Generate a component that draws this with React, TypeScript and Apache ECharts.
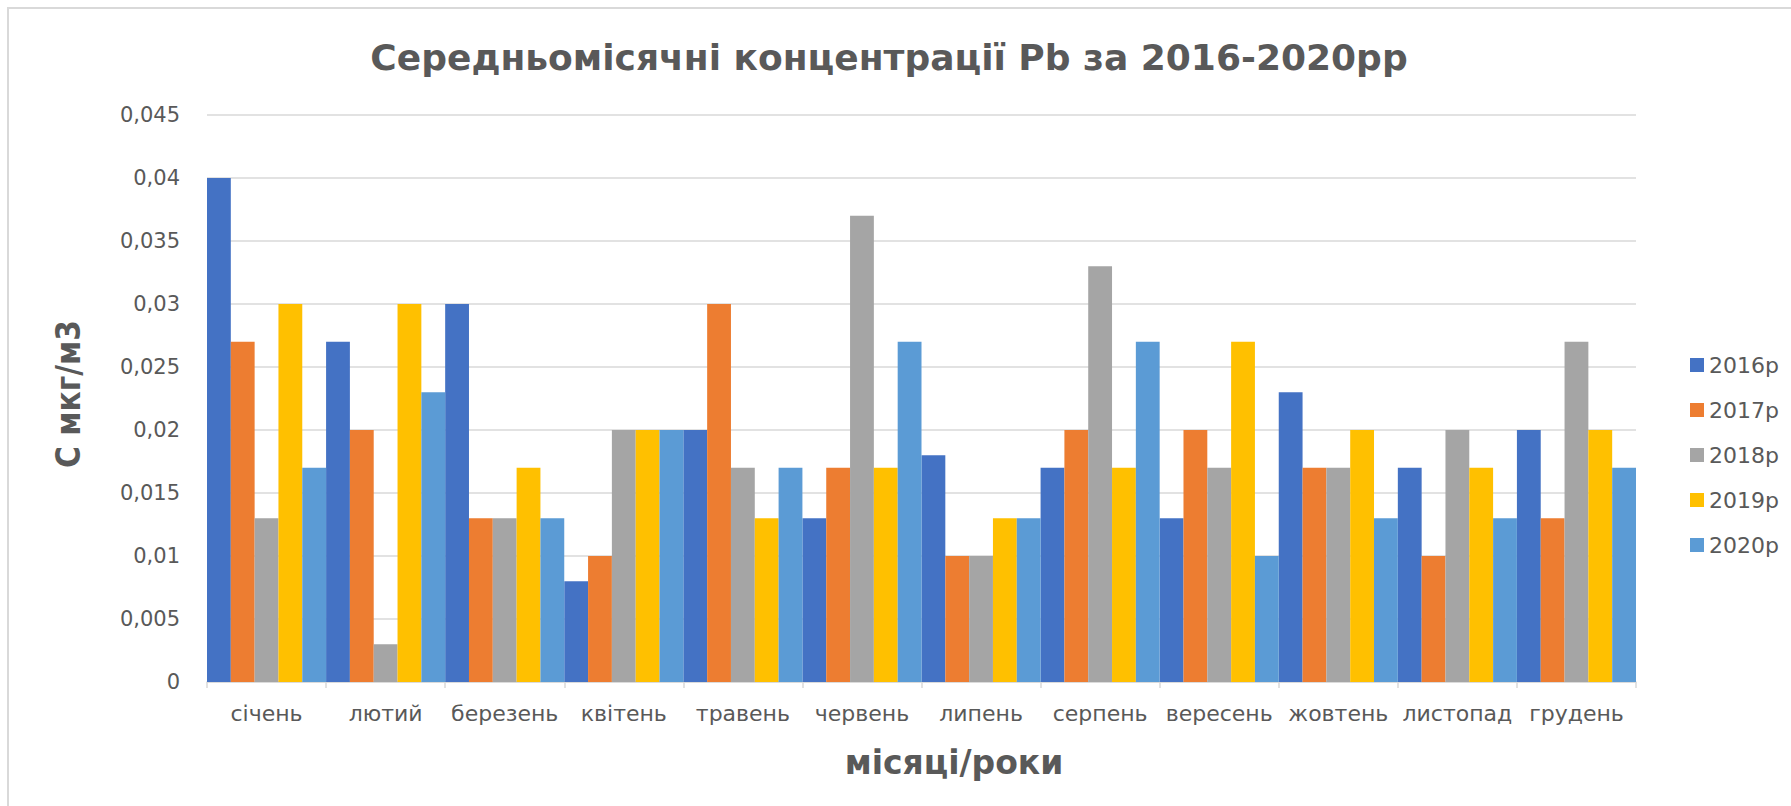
import React, { useEffect, useRef } from "react";
import * as echarts from "echarts";

const chartTitle = "Середньомісячні концентрації Pb за 2016-2020рр";
const yAxisTitle = "С мкг/м3";
const xAxisTitle = "місяці/роки";
const months = ["січень", "лютий", "березень", "квітень", "травень", "червень", "липень", "серпень", "вересень", "жовтень", "листопад", "грудень"];
const seriesNames = ["2016р", "2017р", "2018р", "2019р", "2020р"];
const seriesColors = ["#4472C4", "#ED7D31", "#A5A5A5", "#FFC000", "#5B9BD5"];
const v2016 = [0.04, 0.027, 0.03, 0.008, 0.02, 0.013, 0.018, 0.017, 0.013, 0.023, 0.017, 0.02];
const v2017 = [0.027, 0.02, 0.013, 0.01, 0.03, 0.017, 0.01, 0.02, 0.02, 0.017, 0.01, 0.013];
const v2018 = [0.013, 0.003, 0.013, 0.02, 0.017, 0.037, 0.01, 0.033, 0.017, 0.017, 0.02, 0.027];
const v2019 = [0.03, 0.03, 0.017, 0.02, 0.013, 0.017, 0.013, 0.017, 0.027, 0.02, 0.017, 0.02];
const v2020 = [0.017, 0.023, 0.013, 0.02, 0.017, 0.027, 0.013, 0.027, 0.01, 0.013, 0.013, 0.017];
const allValues = [v2016, v2017, v2018, v2019, v2020];
const yMin = 0;
const yMax = 0.045;
const yStep = 0.005;

const FONT = "'DejaVu Sans', sans-serif";
const TEXT = "#595959";
const GRID = "#D9D9D9";

export default function App() {
  const ref = useRef<HTMLDivElement>(null);
  useEffect(() => {
    if (!ref.current) return;
    const chart = echarts.init(ref.current, null, { renderer: "svg" });
    chart.setOption({
      animation: false,
      backgroundColor: "#ffffff",
      grid: { left: 207, right: 155, top: 115, bottom: 124, containLabel: false },
      legend: {
        orient: "vertical",
        left: 1685,
        top: 349,
        itemWidth: 14,
        itemHeight: 14,
        itemGap: 23,
        icon: "rect",
        textStyle: { fontFamily: FONT, fontSize: 22, color: TEXT, lineHeight: 22 },
        data: seriesNames,
      },
      xAxis: {
        type: "category",
        data: months,
        axisLine: { lineStyle: { color: GRID, width: 1.5 } },
        axisTick: { show: true, length: 6, lineStyle: { color: GRID, width: 1.5 } },
        axisLabel: { interval: 0, margin: 20, fontFamily: FONT, fontSize: 22, color: TEXT },
      },
      yAxis: {
        type: "value",
        min: yMin,
        max: yMax,
        interval: yStep,
        axisLine: { show: false },
        axisTick: { show: false },
        splitLine: { lineStyle: { color: GRID, width: 1.5 } },
        axisLabel: {
          margin: 27,
          fontFamily: FONT,
          fontSize: 21,
          color: TEXT,
          formatter: (v: number) => String(+v.toFixed(3)).replace(".", ","),
        },
      },
      series: seriesNames.map((name, i) => ({
        name,
        type: "bar",
        data: allValues[i],
        barGap: "0%",
        barCategoryGap: "0%",
        itemStyle: { color: seriesColors[i] },
      })),
      graphic: [
        {
          type: "rect",
          shape: { x: 8, y: 8, width: 1820, height: 840 },
          style: { fill: "none", stroke: GRID, lineWidth: 2 },
          silent: true,
        },
        {
          type: "text",
          x: 889,
          y: 57,
          style: {
            text: chartTitle,
            fontFamily: FONT,
            fontWeight: "bold",
            fontSize: 36,
            fill: TEXT,
            textAlign: "center",
            textVerticalAlign: "middle",
          },
        },
        {
          type: "text",
          x: 954,
          y: 762,
          style: {
            text: xAxisTitle,
            fontFamily: FONT,
            fontWeight: "bold",
            fontSize: 33,
            fill: TEXT,
            textAlign: "center",
            textVerticalAlign: "middle",
          },
        },
        {
          type: "text",
          x: 68,
          y: 394,
          rotation: Math.PI / 2,
          style: {
            text: yAxisTitle,
            fontFamily: "'Liberation Sans Narrow', 'DejaVu Sans Condensed', 'DejaVu Sans', sans-serif",
            fontWeight: "bold",
            fontSize: 33,
            fill: TEXT,
            textAlign: "center",
            textVerticalAlign: "middle",
          },
        },
      ],
    });
    return () => chart.dispose();
  }, []);
  return (
    <div
      ref={ref}
      style={{ position: "absolute", left: 0, top: 0, width: 1791, height: 806 }}
    />
  );
}
